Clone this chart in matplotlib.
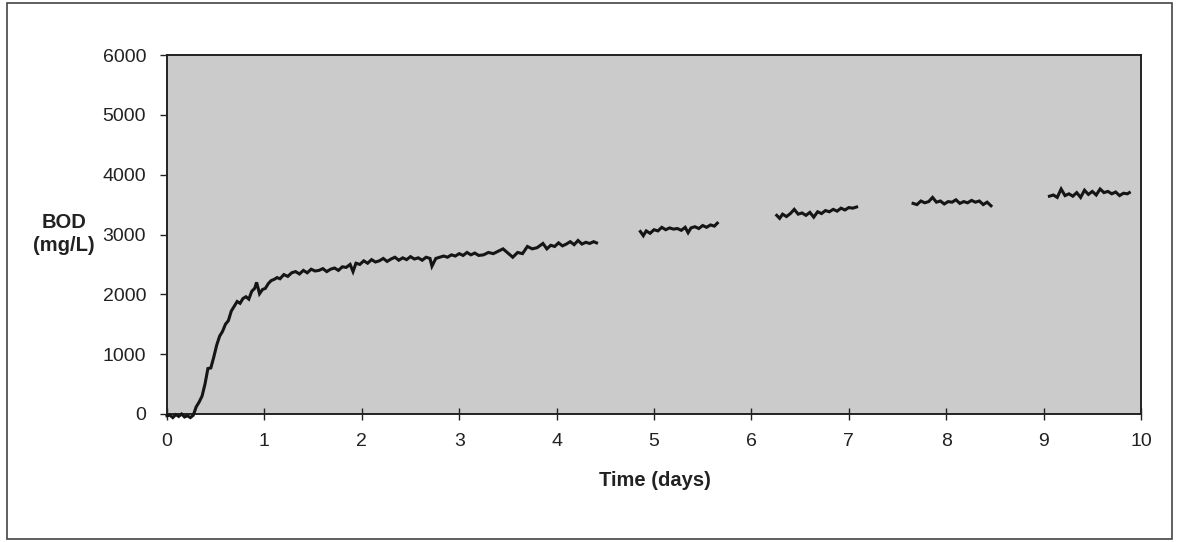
import matplotlib
matplotlib.use("Agg")
import matplotlib.pyplot as plt
from matplotlib.patches import Rectangle

plt.rcParams['font.family'] = ['Liberation Sans', 'DejaVu Sans']

# Segment 1
t1 = [0.00, 0.03, 0.06, 0.09, 0.12, 0.15, 0.18, 0.21, 0.24, 0.27, 0.30, 0.33, 0.36, 0.39,
      0.42, 0.45, 0.48, 0.51, 0.54, 0.57, 0.60, 0.63, 0.66, 0.69, 0.72, 0.75, 0.78, 0.81,
      0.84, 0.87, 0.90, 0.92, 0.95, 0.98, 1.01, 1.04, 1.07, 1.10, 1.13, 1.16, 1.20, 1.24,
      1.28, 1.32, 1.36, 1.40, 1.44, 1.48, 1.52, 1.56, 1.60, 1.64, 1.68, 1.72, 1.76, 1.80,
      1.84, 1.88, 1.91, 1.94, 1.98, 2.02, 2.06, 2.10, 2.14, 2.18, 2.22, 2.26, 2.30, 2.34,
      2.38, 2.42, 2.46, 2.50, 2.54, 2.58, 2.62, 2.66, 2.70, 2.72, 2.76, 2.80, 2.84, 2.88,
      2.92, 2.96, 3.00, 3.04, 3.08, 3.12, 3.16, 3.20, 3.25, 3.30, 3.35, 3.40, 3.45, 3.50,
      3.55, 3.60, 3.65, 3.70, 3.75, 3.80, 3.86, 3.90, 3.94, 3.98, 4.02, 4.06, 4.10, 4.14,
      4.18, 4.22, 4.26, 4.30, 4.34, 4.38, 4.41]
bod1 = [-30, -20, -60, -10, -40, 0, -50, -30, -60, -20, 120, 200, 300, 500,
        760, 770, 950, 1150, 1300, 1380, 1500, 1560, 1720, 1800, 1880, 1850, 1930, 1960,
        1920, 2050, 2100, 2200, 2010, 2080, 2100, 2180, 2230, 2250, 2280, 2260, 2330, 2300,
        2360, 2380, 2340, 2400, 2360, 2420, 2390, 2400, 2430, 2380, 2420, 2440, 2400, 2460,
        2450, 2500, 2380, 2520, 2500, 2560, 2520, 2580, 2540, 2560, 2600, 2550, 2590, 2620,
        2570, 2610, 2580, 2630, 2590, 2610, 2570, 2620, 2600, 2470, 2600, 2620, 2640, 2620,
        2660, 2640, 2680, 2650, 2700, 2660, 2690, 2650, 2660, 2700, 2680, 2720, 2760, 2690,
        2620, 2700, 2680, 2800, 2760, 2780, 2850, 2760, 2820, 2800, 2860, 2810, 2840, 2880,
        2830, 2900, 2840, 2870, 2850, 2880, 2860]

# Segment 2
t2 = [4.86, 4.89, 4.92, 4.96, 5.00, 5.04, 5.08, 5.12, 5.16, 5.20, 5.24, 5.28, 5.32, 5.35,
      5.38, 5.42, 5.46, 5.50, 5.54, 5.58, 5.62, 5.65]
bod2 = [3050, 2980, 3060, 3020, 3080, 3060, 3120, 3080, 3110, 3090, 3100, 3070, 3120, 3030,
        3110, 3130, 3100, 3150, 3120, 3160, 3140, 3190]

# Segment 3
t3 = [6.26, 6.29, 6.32, 6.36, 6.40, 6.44, 6.48, 6.52, 6.56, 6.60, 6.64, 6.68, 6.72, 6.76,
      6.80, 6.84, 6.88, 6.92, 6.96, 7.00, 7.04, 7.08]
bod3 = [3320, 3270, 3340, 3300, 3350, 3420, 3340, 3360, 3320, 3370, 3290, 3380, 3350, 3400,
        3380, 3420, 3390, 3440, 3410, 3450, 3440, 3460]

# Segment 4
t4 = [7.66, 7.70, 7.74, 7.78, 7.82, 7.86, 7.90, 7.94, 7.98, 8.02, 8.06, 8.10, 8.14, 8.18,
      8.22, 8.26, 8.30, 8.34, 8.38, 8.42, 8.46]
bod4 = [3520, 3500, 3560, 3530, 3550, 3620, 3540, 3560, 3510, 3550, 3540, 3580, 3520, 3550,
        3530, 3570, 3540, 3560, 3500, 3540, 3480]

# Segment 5
t5 = [9.06, 9.10, 9.14, 9.18, 9.22, 9.26, 9.30, 9.34, 9.38, 9.42, 9.46, 9.50, 9.54, 9.58,
      9.62, 9.66, 9.70, 9.74, 9.78, 9.82, 9.86, 9.88]
bod5 = [3640, 3660, 3620, 3760, 3650, 3680, 3640, 3700, 3620, 3740, 3670, 3720, 3660, 3760,
        3700, 3720, 3680, 3710, 3650, 3690, 3680, 3700]

segments = [(t1, bod1), (t2, bod2), (t3, bod3), (t4, bod4), (t5, bod5)]

x_ticks = list(range(0, 11))
y_ticks = [0, 1000, 2000, 3000, 4000, 5000, 6000]

fig = plt.figure(figsize=(11.79, 5.42), dpi=100)
fig.patch.set_facecolor('white')

# outer frame
fig.patches.append(Rectangle((7 / 1179, 1 - 539 / 542), (1172 - 7) / 1179, (539 - 3) / 542,
                             transform=fig.transFigure, fill=False, edgecolor='#444444',
                             linewidth=1.2))

ax = fig.add_axes([167 / 1179, 1 - 414 / 542, (1141 - 167) / 1179, (414 - 55) / 542])
ax.set_facecolor('#cbcbcb')

for t, b in segments:
    ax.plot(t, b, color='#151515', linewidth=2.2, solid_joinstyle='miter', clip_on=False,
            zorder=3)

ax.set_xlim(0, 10)
ax.set_ylim(0, 6000)
ax.set_xticks(x_ticks)
ax.set_yticks(y_ticks)
ax.set_xticklabels([str(v) for v in x_ticks])
ax.set_yticklabels([str(v) for v in y_ticks])
ax.tick_params(axis='x', direction='inout', length=9, width=1, labelsize=14,
               pad=9, colors='#222222')
ax.tick_params(axis='y', direction='out', length=5, width=1, labelsize=14,
               pad=10, colors='#222222')

for s in ax.spines.values():
    s.set_color('#222222')
    s.set_linewidth(1.4)

fig.text(64 / 1179, 1 - 234 / 542, 'BOD\n(mg/L)', ha='center', va='center',
         fontsize=14.5, fontweight='bold', color='#222222', linespacing=1.25)
fig.text(655 / 1179, 1 - 481 / 542, 'Time (days)', ha='center', va='center',
         fontsize=14.5, fontweight='bold', color='#222222')

fig.savefig('out.png', dpi=100, facecolor='white')
